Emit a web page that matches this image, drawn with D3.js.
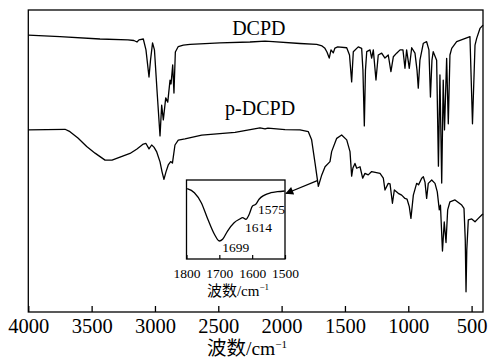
<!DOCTYPE html>
<html><head><meta charset="utf-8">
<script src="https://cdn.jsdelivr.net/npm/d3@7"></script>
<style>body{margin:0;background:#fff}svg{display:block}</style>
</head><body>
<script>
// ---- data ----
const xTicks = [4000, 3500, 3000, 2500, 2000, 1500, 1000, 500];
const insetTicks = [1800, 1700, 1600, 1500];
const seriesNames = ["DCPD", "p-DCPD"];
// DCPD spectrum: wavenumber (cm^-1), transmittance (a.u.)
const dcpdWn = [4000,3750,3434,3213,3166,3142,3126,3092,3071,3047,3035,3019,3004,2984,2960,2947,2934,2915,2899,2881,2873,2860,2850,2839,2816,2776,2723,2487,2250,2131,2068,1855,1723,1681,1658,1642,1624,1610,1592,1579,1557,1486,1464,1447,1434,1395,1368,1358,1347,1338,1328,1302,1289,1276,1255,1237,1210,1184,1158,1137,1118,1092,1065,1042,1026,1013,992,973,947,931,921,908,881,855,837,825,813,803,776,762,750,736,724,714,697,684,671,657,618,539,513,493,473,460,434,410];
const dcpdT  = [91.7,91.2,90.4,90.1,89.9,89.4,90.1,90.4,86.8,77.8,83.4,89.1,86.8,73.5,58.3,68.5,63.6,70.9,69.5,76.8,75.5,81.8,72.5,86.1,87.9,88.4,88.6,89.1,89.4,89.7,89.5,88.9,88.6,88.1,87.3,86.1,84.1,86.8,85.8,87.4,87.8,87.5,85.1,76.2,86.2,87.8,87.3,80.1,61.6,80.1,86.2,86.8,84.1,86.8,76.8,85.1,85.7,84.1,85.1,79.6,84.5,85.7,86.8,86.8,80.7,86.8,80.7,87.5,85.7,80.1,74.1,83.4,89.0,89.5,86.8,71.2,83.4,86.2,83.4,48.3,78.5,42.7,76.8,60.3,84.0,62.3,85.1,87.3,89.5,90.8,91.2,62.3,88.4,90.6,93.9,95.0];
// p-DCPD spectrum
const pdcpdWn = [4000,3710,3671,3608,3539,3473,3394,3339,3276,3197,3142,3092,3071,3047,3026,3008,2986,2960,2944,2929,2913,2895,2876,2862,2842,2816,2763,2631,2368,2171,2131,2108,1973,1855,1789,1763,1736,1710,1683,1657,1618,1605,1565,1526,1486,1460,1447,1437,1421,1407,1381,1360,1342,1316,1289,1223,1197,1184,1158,1144,1125,1110,1079,1052,1026,1010,992,979,960,934,919,894,881,868,855,842,815,789,771,755,746,730,716,702,689,671,631,578,560,550,544,538,526,499,473,447,420,410];
const pdcpdT  = [60.3,60.5,59.7,57.6,54.8,52.6,50.3,50.3,51.3,52.5,54.0,55.6,55.8,54.0,55.3,54.6,53.0,49.7,46.4,43.9,46.4,48.7,49.8,49.3,55.3,56.9,57.3,58.6,59.5,61.0,60.6,60.9,60.4,60.3,59.7,57.0,49.3,41.6,45.4,48.1,49.8,53.1,57.5,58.6,57.0,53.1,45.0,47.7,49.2,47.6,48.1,44.3,45.9,45.4,46.5,45.9,44.3,40.4,42.6,42.4,36.0,40.4,39.3,38.7,37.6,37.4,34.9,31.0,38.7,42.6,42.1,44.3,44.8,43.0,37.6,42.6,43.7,42.6,39.8,33.8,35.4,20.2,29.8,23.0,33.8,36.5,37.1,35.4,34.3,23.8,6.7,20.5,30.5,30.8,29.9,31.0,32.1,32.5];
// inset: p-DCPD 1800-1500 cm^-1, expanded
const insetWn = [1798,1776,1755,1735,1715,1700,1690,1675,1655,1639,1629,1619,1609,1599,1589,1579,1564,1543,1523,1501];
const insetT  = [89.0,83.9,71.3,50.3,31.3,22.8,24.9,35.4,45.9,50.3,52.3,50.3,56.6,67.1,69.2,75.6,80.6,83.9,85.2,86.1];
const peakLabels = ["1699", "1614", "1575"];
const peakWn = [1699, 1619, 1579];

// ---- layout ----
const W = 489, H = 359;
const M = {left: 28.3, right: 483, top: 10, bottom: 312};
const serif = "'Liberation Serif','Times New Roman','Noto Sans CJK SC',serif";

const svg = d3.select("body").append("svg").attr("width", W).attr("height", H);

const x = d3.scaleLinear().domain([4000, 410]).range([M.left, M.right]);
const y = d3.scaleLinear().domain([0, 100]).range([M.bottom, M.top]);

// frame
svg.append("rect").attr("x", M.left).attr("y", M.top)
  .attr("width", M.right - M.left).attr("height", M.bottom - M.top)
  .attr("fill", "none").attr("stroke", "#000").attr("stroke-width", 1.3);

// bottom axis, inward ticks
const xAxis = d3.axisBottom(x).tickValues(xTicks).tickSizeInner(-6).tickSizeOuter(0).tickPadding(0).tickFormat(d3.format("d"));
const gx = svg.append("g").attr("transform", `translate(0,${M.bottom})`).call(xAxis);
gx.select(".domain").remove();
gx.selectAll("line").attr("stroke", "#000").attr("stroke-width", 1.3);
gx.selectAll("text").attr("font-family", serif).attr("font-size", 20.5).attr("fill", "#000")
  .attr("dy", null).attr("y", 21);

// axis title
const xt = svg.append("text").attr("x", 247).attr("y", 355).attr("text-anchor", "middle")
  .attr("font-family", serif).attr("font-size", 19.5).attr("fill", "#000");
xt.append("tspan").text("波数/cm");
xt.append("tspan").attr("font-size", 11).attr("dy", -7).text("−1");

// spectra
const line = d3.line().x(d => x(d[0])).y(d => y(d[1]));
const dcpd = dcpdWn.map((w, i) => [w, dcpdT[i]]);
const pdcpd = pdcpdWn.map((w, i) => [w, pdcpdT[i]]);
svg.append("path").datum(dcpd).attr("d", line).attr("fill", "none").attr("stroke", "#000").attr("stroke-width", 1.3).attr("stroke-linejoin", "round");
svg.append("path").datum(pdcpd).attr("d", line).attr("fill", "none").attr("stroke", "#000").attr("stroke-width", 1.3).attr("stroke-linejoin", "round");

// series labels
svg.append("text").attr("x", x(2180)).attr("y", y(91.7)).attr("text-anchor", "middle")
  .attr("font-family", serif).attr("font-size", 20).attr("fill", "#000").text(seriesNames[0]);
svg.append("text").attr("x", x(2170)).attr("y", y(65.2)).attr("text-anchor", "middle")
  .attr("font-family", serif).attr("font-size", 20).attr("fill", "#000").text(seriesNames[1]);

// ---- inset ----
const I = {left: 186.5, right: 285, top: 180, bottom: 259};
const xi = d3.scaleLinear().domain([1800, 1500]).range([I.left, I.right]);
const yi = d3.scaleLinear().domain([0, 100]).range([I.bottom, I.top]);
svg.append("rect").attr("x", I.left).attr("y", I.top)
  .attr("width", I.right - I.left).attr("height", I.bottom - I.top)
  .attr("fill", "#fff").attr("stroke", "#000").attr("stroke-width", 1.3);
const xiAxis = d3.axisBottom(xi).tickValues(insetTicks).tickSizeInner(-4).tickSizeOuter(0).tickPadding(0).tickFormat(d3.format("d"));
const gxi = svg.append("g").attr("transform", `translate(0,${I.bottom})`).call(xiAxis);
gxi.select(".domain").remove();
gxi.selectAll("line").attr("stroke", "#000").attr("stroke-width", 1.2);
gxi.selectAll("text").attr("font-family", serif).attr("font-size", 13.5).attr("fill", "#000")
  .attr("dy", null).attr("y", 19);
const it = svg.append("text").attr("x", 238).attr("y", 296).attr("text-anchor", "middle")
  .attr("font-family", serif).attr("font-size", 15).attr("fill", "#000");
it.append("tspan").text("波数/cm");
it.append("tspan").attr("font-size", 9).attr("dy", -6).text("−1");

const lineI = d3.line().x(d => xi(d[0])).y(d => yi(d[1])).curve(d3.curveMonotoneX);
const inset = insetWn.map((w, i) => [w, insetT[i]]);
svg.append("path").datum(inset).attr("d", lineI).attr("fill", "none").attr("stroke", "#000").attr("stroke-width", 1.3);

// peak labels (placed next to the nearest inset point)
const offs = [[3, 11], [-1, 13], [-1, 15]];
peakLabels.forEach((t, i) => {
  const j = d3.minIndex(insetWn, w => Math.abs(w - peakWn[i]));
  svg.append("text").attr("x", xi(insetWn[j]) + offs[i][0]).attr("y", yi(insetT[j]) + offs[i][1])
    .attr("font-family", serif).attr("font-size", 13.5).attr("fill", "#000").text(t);
});

// arrow from p-DCPD carbonyl band to the inset
svg.append("defs").append("marker").attr("id", "ah").attr("viewBox", "0 0 10 10")
  .attr("refX", 9).attr("refY", 5).attr("markerWidth", 10).attr("markerHeight", 8)
  .attr("markerUnits", "userSpaceOnUse").attr("orient", "auto")
  .append("path").attr("d", "M0,0 L10,5 L0,10 Z").attr("fill", "#000");
svg.append("line").attr("x1", x(1718)).attr("y1", y(43.5))
  .attr("x2", xi(1500) + 1).attr("y2", yi(86.1) + 2.5)
  .attr("stroke", "#000").attr("stroke-width", 1.2).attr("marker-end", "url(#ah)");
</script>
</body></html>
